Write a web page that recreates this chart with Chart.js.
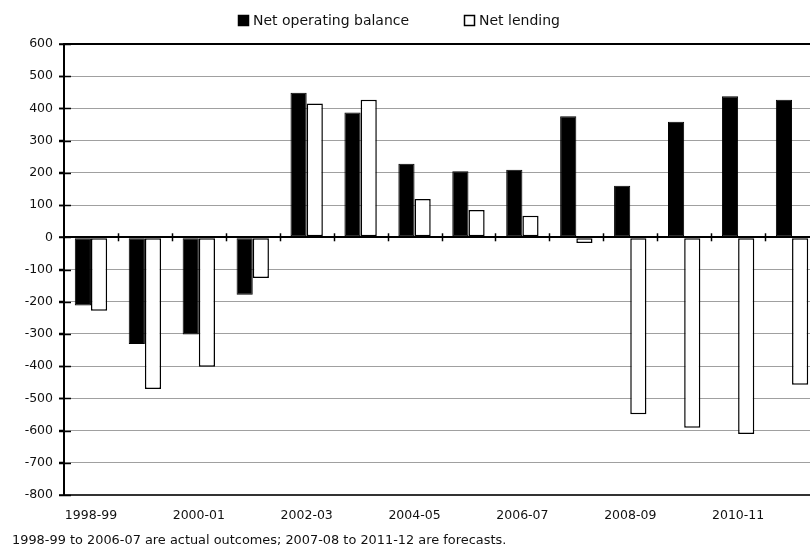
<!DOCTYPE html>
<html>
<head>
<meta charset="utf-8">
<script src="https://cdn.jsdelivr.net/npm/chart.js@4.4.1/dist/chart.umd.min.js"></script>
<style>
  html, body { margin: 0; padding: 0; background: #fff; overflow: hidden; width: 810px; height: 553px; }
  #wrap { position: relative; width: 810px; height: 553px; overflow: hidden; }
  canvas { position: absolute; left: 0; top: 0; }
  #note { position: absolute; left: 12px; top: 532px; font-family: "DejaVu Sans", sans-serif; font-size: 12.9px; color: #111; white-space: nowrap; }
</style>
</head>
<body>
<div id="wrap">
  <canvas id="c" width="820" height="553"></canvas>
  <div id="note">1998-99 to 2006-07 are actual outcomes; 2007-08 to 2011-12 are forecasts.</div>
</div>
<script>
const categories = ["1998-99","1999-00","2000-01","2001-02","2002-03","2003-04","2004-05","2005-06","2006-07","2007-08","2008-09","2009-10","2010-11","2011-12"];
const netOperatingBalance = [-212, -331, -302, -178, 449, 387, 228, 205, 210, 376, 160, 359, 438, 427];
const netLending = [-228, -471, -402, -126, 415, 427, 119, 85, 67, -18, -549, -591, -611, -458];
const seriesNames = ["Net operating balance", "Net lending"];
const yTicks = [600, 500, 400, 300, 200, 100, 0, -100, -200, -300, -400, -500, -600, -700, -800];

const FONT = '"DejaVu Sans", sans-serif';

const extras = {
  id: 'extras',
  afterDraw(chart) {
    const ctx = chart.ctx;
    const x = chart.scales.x, y = chart.scales.y;
    const area = chart.chartArea;
    ctx.save();
    ctx.strokeStyle = '#000';
    ctx.lineWidth = 1.5;
    yTicks.forEach(v => {
      const py = Math.round(y.getPixelForValue(v)) + 0.5;
      ctx.beginPath();
      ctx.moveTo(area.left - 5, py);
      ctx.lineTo(area.left + 7, py);
      ctx.stroke();
    });
    const y0 = y.getPixelForValue(0);
    for (let i = 1; i < categories.length; i++) {
      const px = Math.round((x.getPixelForValue(i - 1) + x.getPixelForValue(i)) / 2) + 0.5;
      ctx.beginPath();
      ctx.moveTo(px, y0 - 4);
      ctx.lineTo(px, y0 + 4);
      ctx.stroke();
    }
    ctx.font = '14px ' + FONT;
    ctx.textBaseline = 'middle';
    const ly = 21;
    const items = [
      {bx: 238, tx: 253, fill: '#000'},
      {bx: 464, tx: 479, fill: '#fff'}
    ];
    chart.data.datasets.forEach((ds, i) => {
      const it = items[i];
      ctx.fillStyle = it.fill;
      ctx.fillRect(it.bx, ly - 6, 11, 11);
      ctx.strokeStyle = '#000';
      ctx.lineWidth = 1.5;
      ctx.strokeRect(it.bx + 0.5, ly - 5.5, 10, 10);
      ctx.fillStyle = '#111';
      ctx.textAlign = 'left';
      ctx.fillText(ds.label, it.tx, ly);
    });
    ctx.restore();
  }
};

new Chart(document.getElementById('c'), {
  type: 'bar',
  data: {
    labels: categories,
    datasets: [
      {
        label: seriesNames[0],
        data: netOperatingBalance,
        backgroundColor: '#000',
        borderColor: '#000',
        borderWidth: 1,
        borderSkipped: false,
        categoryPercentage: 0.6,
        barPercentage: 1.0
      },
      {
        label: seriesNames[1],
        data: netLending,
        backgroundColor: '#fff',
        borderColor: '#000',
        borderWidth: 1.5,
        borderSkipped: false,
        categoryPercentage: 0.6,
        barPercentage: 1.0
      }
    ]
  },
  options: {
    responsive: false,
    animation: false,
    devicePixelRatio: 1,
    layout: { padding: { left: 0, top: 44, right: 1, bottom: 34 } },
    plugins: {
      legend: { display: false },
      tooltip: { enabled: false }
    },
    scales: {
      x: {
        grid: { display: false },
        border: { display: false },
        ticks: {
          autoSkip: false,
          maxRotation: 0,
          padding: 5,
          color: '#111',
          font: { family: FONT, size: 12.5 },
          callback: function(v, i) { return i % 2 === 0 ? categories[i] : ''; }
        },
        afterFit(s) { s.height = 24; }
      },
      y: {
        min: -800,
        max: 600,
        afterBuildTicks(s) { s.ticks = yTicks.map(v => ({ value: v })); },
        grid: {
          color(c) {
            const v = c.tick && c.tick.value;
            if (v === 0 || v === 600) return '#000';
            if (v === -800) return '#333';
            return '#a0a0a0';
          },
          lineWidth(c) {
            const v = c.tick && c.tick.value;
            if (v === 0 || v === 600 || v === -800) return 2;
            return 1;
          },
          tickColor: '#000',
          tickLength: 5,
          tickWidth: 1.5
        },
        border: { display: true, color: '#000', width: 2 },
        ticks: {
          padding: 6,
          color: '#111',
          font: { family: FONT, size: 12.5 }
        },
        afterFit(s) { s.width = 64; }
      }
    }
  },
  plugins: [extras]
});
</script>
</body>
</html>
